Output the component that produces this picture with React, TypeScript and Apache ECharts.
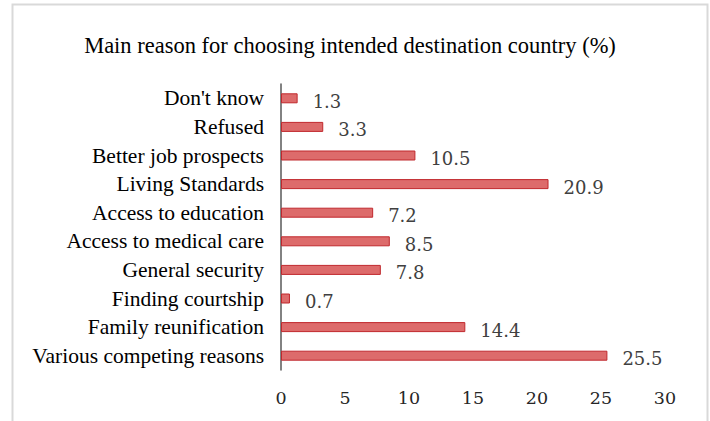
import React, { useEffect, useRef } from "react";
import * as echarts from "echarts";

const titleText = "Main reason for choosing intended destination country (%)";
const categories = [
  "Don't know",
  "Refused",
  "Better job prospects",
  "Living Standards",
  "Access to education",
  "Access to medical care",
  "General security",
  "Finding courtship",
  "Family reunification",
  "Various competing reasons",
];
const values = [1.3, 3.3, 10.5, 20.9, 7.2, 8.5, 7.8, 0.7, 14.4, 25.5];
const xMin = 0;
const xMax = 30;
const xInterval = 5;

const serif = "'Liberation Serif', 'Times New Roman', serif";
const numFont = "'DejaVu Serif', serif";

export default function App() {
  const ref = useRef<HTMLDivElement>(null);
  useEffect(() => {
    if (!ref.current) return;
    const chart = echarts.init(ref.current, null, { renderer: "svg" });
    chart.setOption({
      animation: false,
      backgroundColor: "#ffffff",
      title: {
        text: titleText,
        left: 345,
        textAlign: "center",
        top: 29,
        textStyle: {
          fontFamily: serif,
          fontWeight: "normal",
          fontSize: 22.5,
          color: "#000000",
        },
      },
      graphic: [
        {
          type: "rect",
          shape: { x: 12.5, y: 4.5, width: 695, height: 430 },
          style: { fill: "none", stroke: "#d9d9d9", lineWidth: 2 },
          silent: true,
        },
      ],
      grid: { left: 281, right: 45, top: 84, bottom: 51, containLabel: false },
      xAxis: {
        type: "value",
        min: xMin,
        max: xMax,
        interval: xInterval,
        axisLine: { show: false },
        axisTick: { show: false },
        splitLine: { show: false },
        axisLabel: {
          margin: 19,
          fontFamily: numFont,
          fontSize: 17.5,
          color: "#262626",
        },
      },
      yAxis: {
        type: "category",
        inverse: true,
        data: categories,
        axisLine: { show: true, lineStyle: { color: "#595959", width: 1.5 } },
        axisTick: { show: false },
        axisLabel: {
          interval: 0,
          margin: 17,
          fontFamily: serif,
          fontSize: 21.5,
          color: "#000000",
        },
      },
      series: [
        {
          type: "bar",
          data: values,
          barWidth: 10,
          itemStyle: {
            color: "#dd6b6b",
            borderColor: "#c0282d",
            borderWidth: 1,
          },
          label: {
            show: true,
            position: "right",
            distance: 15,
            fontFamily: numFont,
            fontSize: 18,
            color: "#404040",
            offset: [0, 3],
          },
        },
      ],
    });
    return () => chart.dispose();
  }, []);
  return (
    <div
      ref={ref}
      style={{ position: "fixed", left: 0, top: 0, width: 710, height: 421 }}
    />
  );
}
